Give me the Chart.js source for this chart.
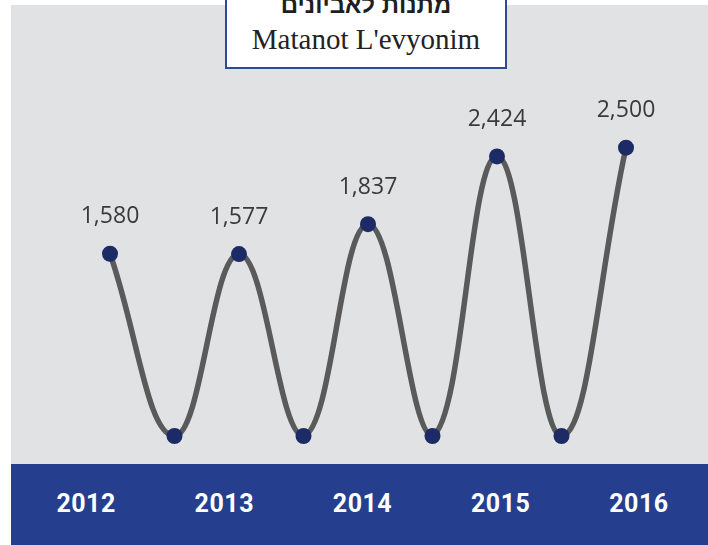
<!DOCTYPE html>
<html>
<head>
<meta charset="utf-8">
<script src="https://cdn.jsdelivr.net/npm/chart.js@4.4.1/dist/chart.umd.min.js"></script>
<style>
  html, body { margin: 0; padding: 0; background: #ffffff; }
  body { width: 708px; height: 545px; position: relative; overflow: hidden; }
  #panel {
    position: absolute; left: 11px; top: 5px; width: 697px; height: 459px;
    background: #e1e2e4;
  }
  #chart-wrap { position: absolute; left: 0; top: 0; width: 697px; height: 459px; }
  #band {
    position: absolute; left: 11px; top: 464px; width: 697px; height: 81px;
    background: #253f8e; display: flex; padding-left: 6px; box-sizing: border-box;
  }
  #band div {
    flex: 1; text-align: center; color: #ffffff;
    font: bold 25px Roboto, 'DejaVu Sans', sans-serif; line-height: 80px;
    letter-spacing: 0.5px;
  }
  #title-box {
    position: absolute; left: 225px; top: -20px; width: 278px; height: 85px;
    background: #ffffff; border: 2px solid #2c4a9c; text-align: center;
  }
  #title-he {
    font: bold 24px 'Liberation Sans', 'DejaVu Sans', sans-serif; color: #1e1e1e;
    margin-top: 10px; line-height: 26px; direction: rtl;
  }
  #title-en {
    font: 29px 'Liberation Serif', 'DejaVu Serif', serif; color: #222222;
    margin-top: 4px; line-height: 34px;
  }
</style>
</head>
<body>
<div id="panel"><div id="chart-wrap"><canvas id="line-chart"></canvas></div></div>
<div id="band"></div>
<div id="title-box">
  <div id="title-he"></div>
  <div id="title-en"></div>
</div>

<script>
// ── Data ──────────────────────────────────────────────────────────────────
const titleHe = 'מתנות לאביונים';
const titleEn = "Matanot L'evyonim";
const years   = ['2012', '2013', '2014', '2015', '2016'];
// peaks are the yearly values, the dips in between go down to zero
const pointLabels = ['2012', '', '2013', '', '2014', '', '2015', '', '2016'];
const values      = [1580, 0, 1577, 0, 1837, 0, 2424, 0, 2500];

// ── Title + year band ─────────────────────────────────────────────────────
document.getElementById('title-he').textContent = titleHe;
document.getElementById('title-en').textContent = titleEn;

const band = document.getElementById('band');
years.forEach(y => {
    const el = document.createElement('div');
    el.textContent = y;
    band.appendChild(el);
});

// ── Value labels above the peaks ──────────────────────────────────────────
const peakLabels = {
    id: 'peakLabels',
    afterDatasetsDraw(chart) {
        const { ctx } = chart;
        const meta = chart.getDatasetMeta(0);
        ctx.save();
        ctx.font = '23px "Open Sans", "Noto Sans", sans-serif';
        ctx.fillStyle = '#3a3a3a';
        ctx.textAlign = 'center';
        ctx.textBaseline = 'middle';
        meta.data.forEach((pt, i) => {
            const v = values[i];
            if (!v) return;
            ctx.fillText(v.toLocaleString('en-US'), pt.x, pt.y - 37);
        });
        ctx.restore();
    }
};

const canvas = document.getElementById('line-chart');
new Chart(canvas, {
    type: 'line',
    data: {
        labels: pointLabels,
        datasets: [{
            data: values,
            borderColor: '#5a5a5a',
            borderWidth: 5.5,
            tension: 0.42,
            pointRadius: 8,
            pointHoverRadius: 8,
            pointBackgroundColor: '#1c2a66',
            pointBorderWidth: 0,
            clip: false,
            fill: false,
        }],
    },
    options: {
        responsive: true,
        maintainAspectRatio: false,
        animation: false,
        layout: { padding: { left: 99, right: 82, top: 85, bottom: 28 } },
        plugins: {
            legend:  { display: false },
            tooltip: { enabled: false },
        },
        scales: {
            x: { display: false },
            y: { display: false, min: 0, max: 3000 },
        },
    },
    plugins: [peakLabels],
});
</script>
</body>
</html>
